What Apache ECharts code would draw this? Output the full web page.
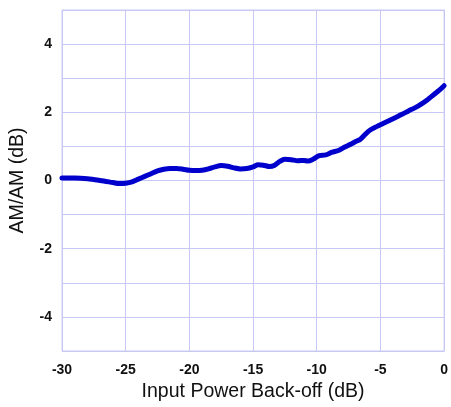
<!DOCTYPE html>
<html>
<head>
<meta charset="utf-8">
<script src="https://cdn.jsdelivr.net/npm/echarts@6/dist/echarts.min.js"></script>
<style>html,body{margin:0;padding:0;background:#fff}#c{width:451px;height:407px}</style>
</head>
<body>
<div id="c"></div>
<script>
const xValues = [-30,-29,-28,-27,-26,-25.5,-25,-24.5,-24,-23.5,-23,-22.5,-22,-21.5,-21,-20.5,-20,-19.5,-19,-18.5,-18,-17.5,-17,-16.5,-16,-15.5,-15,-14.6,-14.2,-13.7,-13.3,-12.9,-12.5,-12,-11.5,-11,-10.7,-10.3,-9.8,-9.3,-8.8,-8.3,-7.8,-7.3,-6.9,-6.6,-6.2,-5.8,-5.3,-4.8,-4.3,-3.8,-3.3,-2.8,-2.3,-1.8,-1.3,-0.8,-0.4,0];
const amam = [0.07,0.07,0.05,0.0,-0.06,-0.09,-0.08,-0.04,0.04,0.12,0.2,0.28,0.33,0.35,0.35,0.33,0.3,0.29,0.3,0.34,0.4,0.44,0.42,0.37,0.34,0.35,0.4,0.46,0.45,0.41,0.45,0.56,0.62,0.61,0.58,0.59,0.57,0.62,0.73,0.75,0.83,0.88,0.98,1.07,1.15,1.2,1.35,1.48,1.58,1.67,1.76,1.85,1.94,2.04,2.13,2.24,2.37,2.52,2.64,2.78];
const xTicks = [-30,-25,-20,-15,-10,-5,0];
const yTickLabels = [-4,-2,0,2,4];

const gridColor = '#c8c8f4';
const chart = echarts.init(document.getElementById('c'));
chart.setOption({
  animation: false,
  grid: {left: 62, right: 4, top: 10, bottom: 54, show: true, borderColor: gridColor, borderWidth: 1},
  xAxis: {
    type: 'value', min: -30, max: 0, interval: 5,
    name: 'Input Power Back-off (dB)', nameLocation: 'middle', nameGap: 31,
    nameTextStyle: {fontFamily: 'Liberation Sans, Arial', fontSize: 19.5, color: '#111'},
    axisLine: {lineStyle: {color: gridColor}},
    axisTick: {show: false},
    splitLine: {show: true, lineStyle: {color: gridColor, width: 1}},
    axisLabel: {margin: 12, fontFamily: 'Liberation Sans, Arial', fontWeight: 'bold', fontSize: 14, color: '#111',
      formatter: v => xTicks.includes(v) ? String(v) : ''}
  },
  yAxis: {
    type: 'value', min: -5, max: 5, interval: 1,
    name: 'AM/AM (dB)', nameLocation: 'middle', nameGap: 34,
    nameTextStyle: {fontFamily: 'Liberation Sans, Arial', fontSize: 19.5, color: '#111'},
    axisLine: {show: true, lineStyle: {color: gridColor}},
    axisTick: {show: false},
    splitLine: {show: true, lineStyle: {color: gridColor, width: 1}},
    axisLabel: {margin: 10, fontFamily: 'Liberation Sans, Arial', fontWeight: 'bold', fontSize: 14, color: '#111',
      formatter: v => yTickLabels.includes(v) ? String(v) : ''}
  },
  series: [{
    type: 'line', smooth: 0.3, symbol: 'none',
    data: xValues.map((x, i) => [x, amam[i]]),
    lineStyle: {color: '#0000cc', width: 5, cap: 'round', join: 'round'}
  }]
});
</script>
</body>
</html>
